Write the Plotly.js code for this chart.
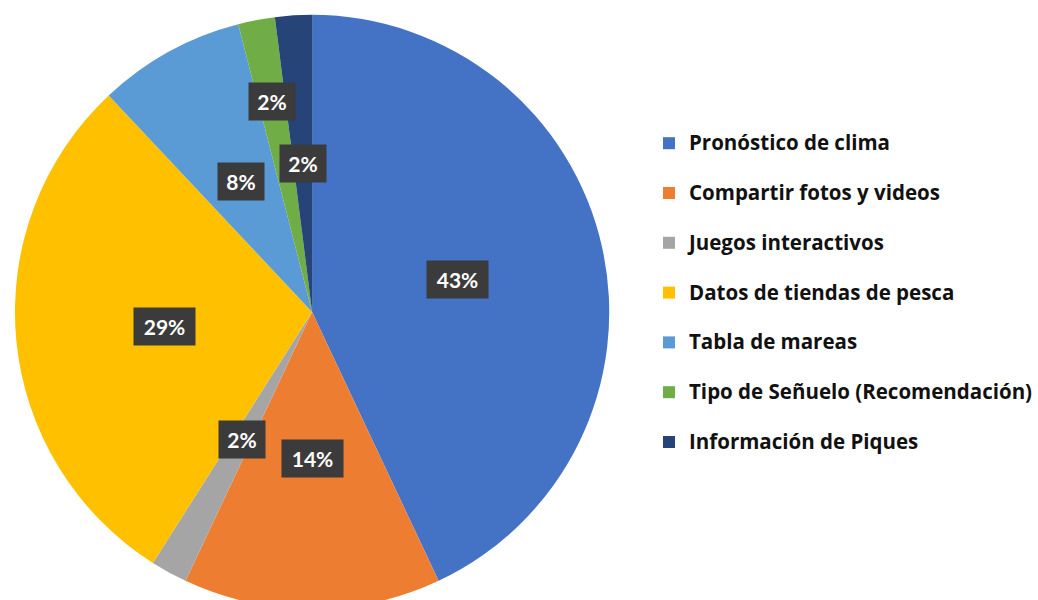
<!DOCTYPE html>
<html>
<head>
<meta charset="utf-8">
<script src="https://cdn.plot.ly/plotly-3.0.1.min.js"></script>
<style>
html, body { margin:0; padding:0; background:#ffffff; overflow:hidden; width:1038px; height:600px; }
#chart { width:1038px; height:612px; }
</style>
</head>
<body>
<div id="chart"></div>
<script>
// ---- data ----
const categories = [
  'Pronóstico de clima',
  'Compartir fotos y videos',
  'Juegos interactivos',
  'Datos de tiendas de pesca',
  'Tabla de mareas',
  'Tipo de Señuelo (Recomendación)',
  'Información de Piques'
];
const shares = [43, 14, 2, 29, 8, 2, 2];

// ---- styles ----
const colors = ['#4472C4', '#ED7D31', '#A5A5A5', '#FFC000', '#5B9BD5', '#70AD47', '#264478'];
const labelRadius = [0.5, 0.49, 0.49, 0.5, 0.5, 0.72, 0.5];

const W = 1038, H = 612;
const dom = { x: [15 / W, 611 / W], y: [2 / H, 598 / H] };

// label positions derived from the slice angles
const total = shares.reduce((a, b) => a + b, 0);
const cx = (dom.x[0] + dom.x[1]) / 2 * W;
const cy = (1 - (dom.y[0] + dom.y[1]) / 2) * H;
const R = Math.min((dom.x[1] - dom.x[0]) * W, (dom.y[1] - dom.y[0]) * H) / 2;
let cum = 0;
const annotations = shares.map((v, i) => {
  const mid = (cum + v / 2) / total * 2 * Math.PI;
  cum += v;
  const px = cx + labelRadius[i] * R * Math.sin(mid);
  const py = cy - labelRadius[i] * R * Math.cos(mid);
  const txt = Math.round(v / total * 100) + '%';
  return {
    xref: 'paper', yref: 'paper',
    x: px / W, y: 1 - py / H,
    xanchor: 'center', yanchor: 'middle',
    text: txt, showarrow: false,
    bgcolor: '#3b3b3b',
    width: 14 + 15 * txt.length, height: 35,
    font: { family: 'Lato, "Open Sans", sans-serif', size: 21, color: '#ffffff', weight: 'bold' }
  };
});

const trace = {
  type: 'pie',
  labels: categories.map(c => '<span style="font-size:20.5px">' + c + '</span><br>\u00a0'),
  values: shares,
  sort: false,
  direction: 'clockwise',
  rotation: 0,
  textinfo: 'none',
  marker: { colors: colors, line: { width: 0 } },
  domain: dom,
  hoverinfo: 'label+percent'
};

const layout = {
  width: W, height: H,
  margin: { l: 0, r: 0, t: 0, b: 0 },
  paper_bgcolor: '#ffffff',
  showlegend: true,
  legend: {
    x: 651 / W, xanchor: 'left',
    y: 1 - 125 / H, yanchor: 'top',
    valign: 'top',
    font: { family: '"Open Sans", Lato, sans-serif', size: 18, color: '#111111', weight: 'bold' },
    bgcolor: 'rgba(0,0,0,0)'
  },
  annotations: annotations
};

Plotly.newPlot('chart', [trace], layout, { displayModeBar: false, staticPlot: true });
</script>
</body>
</html>
